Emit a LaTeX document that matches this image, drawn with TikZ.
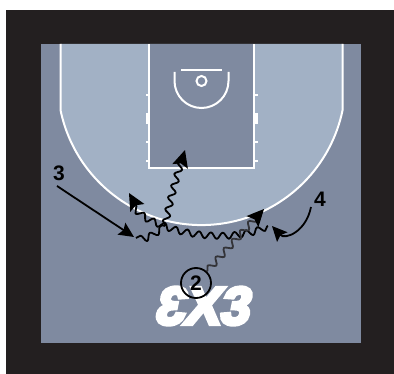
\documentclass[tikz,border=0pt]{standalone}
\usepackage{fontspec}
\setmainfont{Liberation Sans}
\newfontfamily\logofont[FakeBold=7,FakeSlant=0.2]{Liberation Sans Bold}
\newfontfamily\logoback[FakeBold=7,FakeSlant=-0.2]{Liberation Sans Bold}
\usetikzlibrary{arrows.meta,decorations.pathmorphing}
\definecolor{frameblack}{HTML}{231F20}
\definecolor{courtdark}{HTML}{7F8AA0}
\definecolor{courtlight}{HTML}{A2B1C5}
\definecolor{dribblegrey}{HTML}{333338}
\tikzset{
 courtline/.style={white,line width=2pt},
 tick/.style={fill=white,draw=none},
 label/.style={font=\fontsize{21}{21}\selectfont\bfseries,inner sep=0pt,text=black},
 move/.style={black,line width=1.8pt,-{Stealth[length=15pt,width=14pt,inset=2.5pt]}},
 dribble/.style={black,line width=1.8pt,line join=round,
   decoration={snake,amplitude=3.2pt,segment length=12pt,post length=9pt,pre length=1pt},
   decorate,-{Stealth[length=17pt,width=16pt,inset=3pt,color=black]}},
 plainwave/.style={black,line width=1.8pt,line join=round,
   decoration={snake,amplitude=3.2pt,segment length=12pt},decorate}
}
\begin{document}
\begin{tikzpicture}[x=1pt,y=-1pt]
\useasboundingbox (0,0) rectangle (394,374);
\fill[white] (0,0) rectangle (394,374);
\fill[frameblack] (6,10) rectangle (394,374);
\fill[courtdark] (41,44) rectangle (361,343);
% three point area
\fill[courtlight] (60.5,44) -- (60.5,110) arc[start angle=191.6,end angle=348.4,radius=144pt] -- (342.5,44) -- cycle;
\draw[courtline] (60.5,44) -- (60.5,110) arc[start angle=191.6,end angle=348.4,radius=144pt] -- (342.5,44);
% lane
\fill[courtdark] (149,44) rectangle (254,168);
\draw[courtline] (149,44) -- (149,168) -- (254,168) -- (254,44);
\foreach \yy in {95,142,161}{
 \fill[tick] (145.5,\yy-1.3) rectangle (149,\yy+1.3);
 \fill[tick] (254,\yy-1.3) rectangle (257.5,\yy+1.3);
}
\fill[tick] (145.5,113) rectangle (149,124);
\fill[tick] (254,113) rectangle (257.5,124);
% hoop
\draw[courtline] (181,70) -- (222,70);
\draw[courtline] (201.5,81) circle[radius=5pt];
\draw[courtline] (174.5,72) -- (174.5,81) arc[start angle=180,end angle=360,radius=27pt] -- (228.5,72);
% logo
\node[inner sep=0pt,text=white] (logo) at (201,306) {\fontsize{53}{53}\selectfont\reflectbox{\logoback 3}\logofont X3};
% players and connectors
\node[label] (three) at (59,173) {3};
\node[label] (four) at (320,199) {4};
\node[circle,draw=black,line width=1.8pt,minimum size=30pt,inner sep=0pt,font=\fontsize{21}{21}\selectfont\bfseries] (two) at (196,283) {2};
\coordinate (threeStart) at (57,186);
\coordinate (threeEnd) at (134,237);
\coordinate (fourStart) at (311,207);
\coordinate (fourEnd) at (272,226);
\coordinate (passTip) at (185,150);
\coordinate (waveStart) at (136,238);
\coordinate (waveMid) at (165,226);
\coordinate (rightStart) at (268,226);
\coordinate (leftTip) at (129,193);
\coordinate (twoTip) at (264,209);
\draw[move] (threeStart) -- (threeEnd);
\draw[move] (fourStart) .. controls (306,232) and (285,240) .. (fourEnd);
\draw[plainwave] (waveStart) .. controls (145,240) and (155,228) .. (waveMid);
\draw[dribble] (waveMid) .. controls (170,200) and (176,180) .. (passTip);
\draw[dribble] (rightStart) .. controls (240,240) and (190,235) .. (165,224) .. controls (150,218) and (140,215) .. (leftTip);
\draw[dribble,dribblegrey] (two) -- (twoTip);
\end{tikzpicture}
\end{document}
